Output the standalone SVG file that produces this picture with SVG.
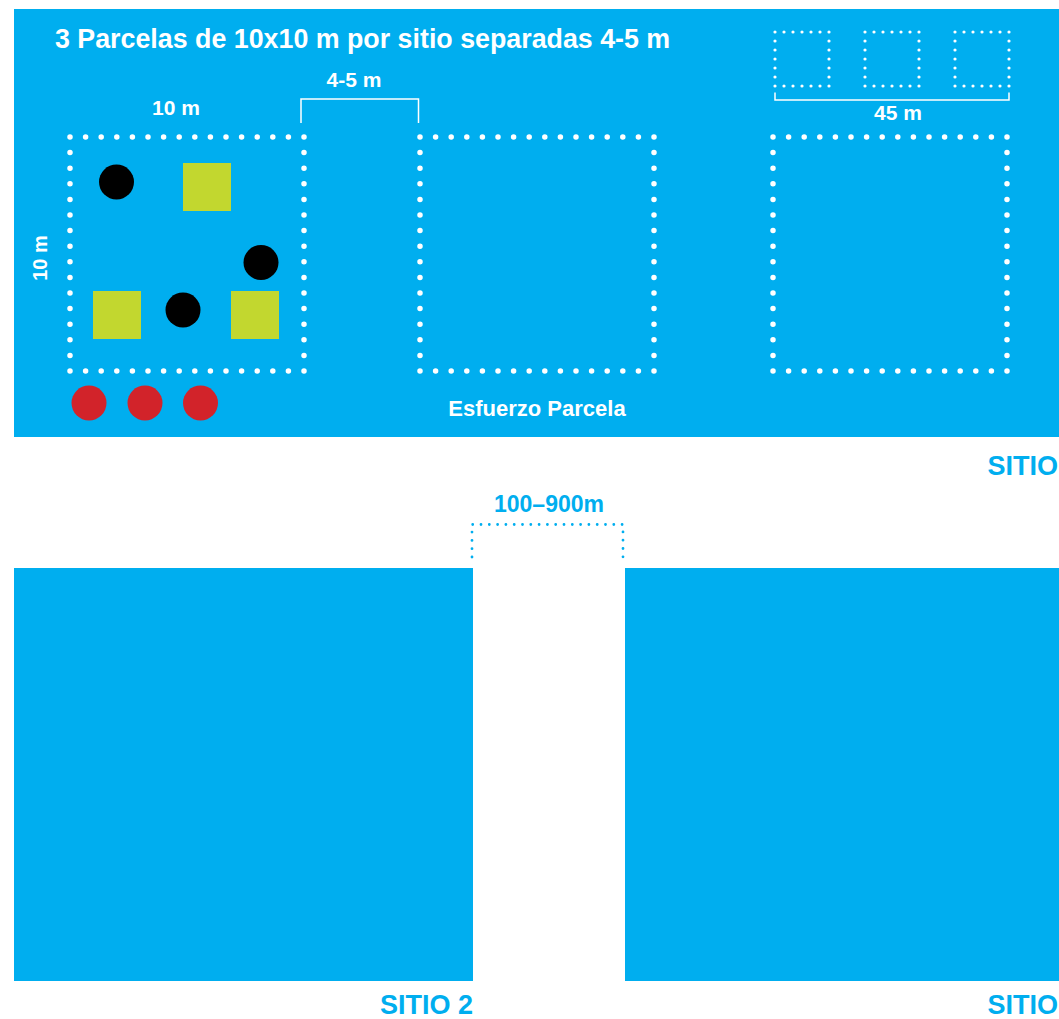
<svg xmlns="http://www.w3.org/2000/svg" width="1059" height="1019" viewBox="0 0 1059 1019">
<defs>
<style>
.bg{fill:#00AEEF}
.wt{fill:#fff;font-family:"Liberation Sans",Arial,sans-serif;font-weight:bold}
.bt{fill:#00AEEF;font-family:"Liberation Sans",Arial,sans-serif;font-weight:bold}
.plot{fill:none;stroke:#fff;stroke-width:5.5;stroke-linecap:round;stroke-dasharray:0 15.6}
.mini{fill:none;stroke:#fff;stroke-width:3.2;stroke-linecap:round;stroke-dasharray:0 9}
.brk{fill:none;stroke:#fff;stroke-width:1.5}
.bdot{fill:none;stroke:#00AEEF;stroke-width:2.8;stroke-linecap:round;stroke-dasharray:0 8.3}
.tree{fill:#000}
.sq{fill:#C2D72F}
.red{fill:#D2232A}
</style>
</defs>
<g id="sitio1">
<rect class="bg" x="14" y="9" width="1045" height="428"/>
<text class="wt" x="55" y="48" font-size="26.8">3 Parcelas de 10x10 m por sitio separadas 4-5 m</text>
</g>
<g id="plot1">
<rect class="plot" x="70" y="137" width="234" height="234"/>
<circle class="tree" cx="116.5" cy="182" r="17.5"/>
<circle class="tree" cx="261" cy="262.5" r="17.5"/>
<circle class="tree" cx="183" cy="310" r="17.5"/>
<rect class="sq" x="183" y="163" width="48" height="48"/>
<rect class="sq" x="93" y="291" width="48" height="48"/>
<rect class="sq" x="231" y="291" width="48" height="48"/>
<circle class="red" cx="89" cy="403" r="17.5"/>
<circle class="red" cx="145" cy="403" r="17.5"/>
<circle class="red" cx="200.5" cy="403" r="17.5"/>
<text class="wt" x="176" y="115" font-size="21" text-anchor="middle">10 m</text>
<text class="wt" font-size="20" text-anchor="middle" transform="translate(47,258) rotate(-90)">10 m</text>
</g>
<g id="plot2">
<rect class="plot" x="420" y="137" width="234" height="234"/>
<text class="wt" x="537" y="416" font-size="22" text-anchor="middle">Esfuerzo Parcela</text>
</g>
<g id="plot3">
<rect class="plot" x="773" y="137" width="234" height="234"/>
</g>
<g id="minis">
<rect class="mini" x="775" y="32" width="54" height="54"/>
<rect class="mini" x="865" y="32" width="54" height="54"/>
<rect class="mini" x="955" y="32" width="54" height="54"/>
<text class="wt" x="898" y="120" font-size="21" text-anchor="middle">45 m</text>
</g>
<g id="labels">
<text class="bt" x="1058" y="475" font-size="27" text-anchor="end">SITIO</text>
<text class="bt" x="549" y="512" font-size="23" text-anchor="middle">100–900m</text>
<text class="bt" x="473" y="1014" font-size="27" text-anchor="end">SITIO 2</text>
<text class="bt" x="1058" y="1014" font-size="27" text-anchor="end">SITIO</text>
</g>
<g id="sitio2"><rect class="bg" x="14" y="568" width="459" height="413"/></g>
<g id="sitio3"><rect class="bg" x="625" y="568" width="434" height="413"/></g>
<g id="connectors">
<path class="brk" d="M301,123 V99 H418.5 V123"/>
<text class="wt" x="354" y="87" font-size="21" text-anchor="middle">4-5 m</text>
<path class="brk" d="M775,92.5 V100 H1009 V92.5"/>
<path class="bdot" d="M472,557 V524.5 H623 V557"/>
</g>
</svg>
